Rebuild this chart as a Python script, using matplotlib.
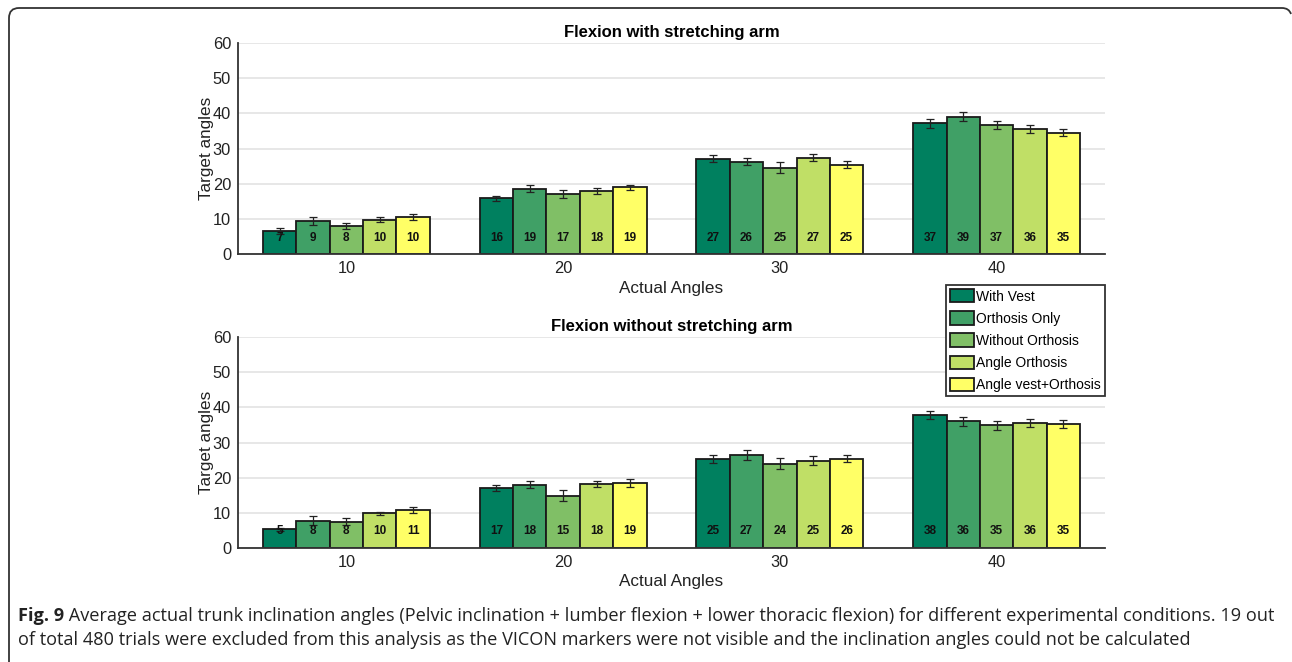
import numpy as np
import matplotlib
matplotlib.use("Agg")
import matplotlib.pyplot as plt
from matplotlib.path import Path
from matplotlib.patches import PathPatch

actual_angles = ["10", "20", "30", "40"]
conditions = ["With Vest", "Orthosis Only", "Without Orthosis", "Angle Orthosis", "Angle vest+Orthosis"]
colors = ["#00805f", "#40a066", "#80bf66", "#c0df66", "#ffff66"]

# rows = condition, cols = actual angle
with_arm = [
    [6.7, 15.9, 27.1, 37.2],
    [9.4, 18.7, 26.3, 39.1],
    [8.2, 17.1, 24.6, 36.7],
    [9.9, 18.0, 27.5, 35.6],
    [10.5, 19.0, 25.5, 34.5],
]
with_arm_err = [
    [0.85, 0.8, 1.0, 1.2],
    [1.1, 1.0, 1.0, 1.3],
    [0.85, 1.2, 1.6, 1.1],
    [0.7, 0.95, 1.0, 1.1],
    [0.85, 0.8, 1.0, 1.0],
]
with_arm_lbl = [
    ["7", "16", "27", "37"],
    ["9", "19", "26", "39"],
    ["8", "17", "25", "37"],
    ["10", "18", "27", "36"],
    ["10", "19", "25", "35"],
]

without_arm = [
    [5.4, 17.2, 25.3, 37.9],
    [7.9, 18.0, 26.5, 36.1],
    [7.6, 14.9, 24.0, 34.9],
    [9.9, 18.3, 24.9, 35.6],
    [11.0, 18.5, 25.5, 35.2],
]
without_arm_err = [
    [0.4, 0.9, 1.2, 1.2],
    [1.2, 1.0, 1.3, 1.3],
    [1.1, 1.55, 1.6, 1.3],
    [0.55, 0.85, 1.2, 1.1],
    [0.85, 1.05, 1.1, 1.1],
]
without_arm_lbl = [
    ["5", "17", "25", "38"],
    ["8", "18", "27", "36"],
    ["8", "15", "24", "35"],
    ["10", "18", "25", "36"],
    ["11", "19", "26", "35"],
]

caption_bold = "Fig. 9"
caption_rest = (" Average actual trunk inclination angles (Pelvic inclination + lumber flexion + lower thoracic flexion)"
                " for different experimental conditions. 19 out")
caption_line2 = ("of total 480 trials were excluded from this analysis as the VICON markers were not visible"
                 " and the inclination angles could not be calculated")

plt.rcParams["font.family"] = ["Liberation Sans", "DejaVu Sans"]

fig = plt.figure(figsize=(12.92, 6.62), dpi=100)

bw = 0.154
x = np.arange(1, len(actual_angles) + 1)


def draw_panel(ax, vals, errs, lbls, title):
    for i, cond in enumerate(conditions):
        pos = x + (i - 2) * bw
        ax.bar(pos, vals[i], width=bw, color=colors[i], edgecolor="#1a1a1a",
               linewidth=1.3, label=cond, zorder=2)
        ax.errorbar(pos, vals[i], yerr=errs[i], fmt="none", ecolor="#222222",
                    elinewidth=0.9, capsize=3, capthick=0.9, zorder=3)
        for p, t in zip(pos, lbls[i]):
            ax.text(p, 4.8, t, ha="center", va="center", fontsize=8.5,
                    fontweight="bold", color="#111111", zorder=4)
    ax.set_xlim(0.5, 4.5)
    ax.set_ylim(0, 60)
    ax.set_yticks(range(0, 61, 10))
    ax.set_xticks(x)
    ax.set_xticklabels(actual_angles)
    ax.tick_params(axis="both", length=0, labelsize=11.8, colors="#222222", pad=5)
    ax.yaxis.grid(True, color="#e3e3e3", linewidth=1.2, zorder=0)
    ax.set_axisbelow(True)
    for s in ["top", "right"]:
        ax.spines[s].set_visible(False)
    for s in ["left", "bottom"]:
        ax.spines[s].set_color("#333333")
        ax.spines[s].set_linewidth(1.3)
    ax.set_xlabel("Actual Angles", fontsize=12.3, color="#222222", labelpad=3)
    ax.set_ylabel("Target angles", fontsize=12.3, color="#222222", labelpad=-1)
    ax.set_title(title, fontsize=12, fontweight="bold", pad=4)


ax1 = fig.add_axes([0.1842, 0.6156, 0.6711, 0.3195])
draw_panel(ax1, with_arm, with_arm_err, with_arm_lbl, "Flexion with stretching arm")

ax2 = fig.add_axes([0.1842, 0.1717, 0.6711, 0.3192])
draw_panel(ax2, without_arm, without_arm_err, without_arm_lbl, "Flexion without stretching arm")

handles, labels = ax1.get_legend_handles_labels()
leg = fig.legend(handles, labels, loc="upper right", bbox_to_anchor=(0.8553, 0.5695),
                 fontsize=10, frameon=True, fancybox=False, borderpad=0.3,
                 labelspacing=0.56, handlelength=1.75, handleheight=1.1,
                 handletextpad=0.15, borderaxespad=0, framealpha=1)
leg.get_frame().set_edgecolor("#333333")
leg.get_frame().set_linewidth(1.3)
leg.set_zorder(10)

# rounded frame round the figure
W, H = 1292.0, 662.0
r = 10.0
verts = [(9 / W, 0.0), (9 / W, (H - 8 - r) / H), (9 / W, (H - 8) / H), ((9 + r) / W, (H - 8) / H),
         ((W - 10) / W, (H - 8) / H), ((W - 3) / W, (H - 8) / H), ((W - 1) / W, (H - 14) / H)]
codes = [Path.MOVETO, Path.LINETO, Path.CURVE3, Path.CURVE3, Path.LINETO, Path.CURVE3, Path.CURVE3]
fig.add_artist(PathPatch(Path(verts, codes), transform=fig.transFigure, fill=False,
                         edgecolor="#333333", linewidth=1.3))

cap_font = ["Open Sans", "DejaVu Sans"]
t1 = fig.text(18 / W, 1 - 616 / H, caption_bold, fontsize=13.1, fontweight="bold",
              family=cap_font, va="center", ha="left", color="#222222")
fig.canvas.draw()
bb = t1.get_window_extent()
fig.text(bb.x1 / W, 1 - 616 / H, caption_rest, fontsize=13.1, family=cap_font,
         va="center", ha="left", color="#222222")
fig.text(18 / W, 1 - 640 / H, caption_line2, fontsize=13.1, family=cap_font,
         va="center", ha="left", color="#222222")

fig.savefig("out.png", dpi=100)
